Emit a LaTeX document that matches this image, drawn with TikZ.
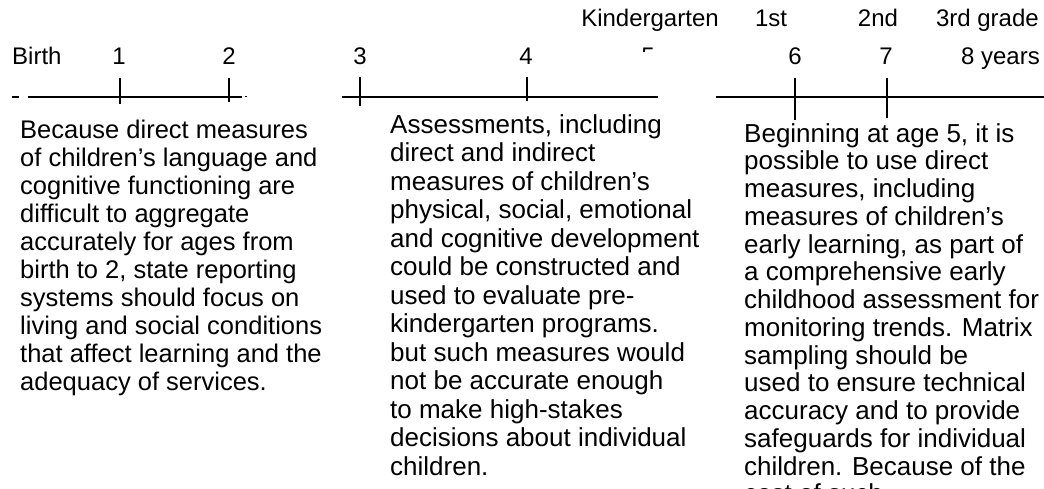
\documentclass[tikz,border=0pt]{standalone}
\usepackage{fontspec}
\setmainfont{Liberation Sans}
\begin{document}
\begin{tikzpicture}[x=1pt,y=-1pt,
  lbl/.style={inner sep=0pt,anchor=base,font=\fontsize{24}{28}\selectfont},
  body/.style={inner sep=0pt,anchor=north west,align=left},
  axisline/.style={line width=1.3pt,black},
  thickaxis/.style={line width=2.4pt,black},
  tickmark/.style={line width=1.5pt,black}]
\useasboundingbox (0,0) rectangle (1044,489);
% top row: grades
\node[lbl] (kg) at (650,27) {Kindergarten};
\node[lbl] (g1) at (771,27) {1st};
\node[lbl] (g2) at (878,27) {2nd};
\node[lbl,anchor=base east] (g3) at (1039,27) {3rd grade};
% second row: ages
\node[lbl,anchor=base west] (birth) at (12,65) {Birth};
\node[lbl] (a1) at (119,65) {1};
\node[lbl] (a2) at (229,65) {2};
\node[lbl] (a3) at (360,65) {3};
\node[lbl] (a4) at (526,65) {4};
\begin{scope}
  \clip (630,40) rectangle (670,52);
  \node[lbl] (a5) at (648,65) {5};
\end{scope}
\node[lbl] (a6) at (795,65) {6};
\node[lbl] (a7) at (886,65) {7};
\node[lbl,anchor=base east] (a8) at (1040,65) {8 years};
% axis segment 1
\coordinate (s1a) at (12,97);
\coordinate (s1b) at (19,97);
\coordinate (s1c) at (28,97);
\coordinate (s1d) at (242,97);
\coordinate (s1e) at (245,97);
\coordinate (s1f) at (247,97);
\draw[axisline] (s1a) -- (s1b);
\draw[axisline] (s1c) -- (s1d);
\draw[axisline,line width=1pt] (s1e) -- (s1f);
\draw[tickmark] (120,78) -- (120,104);
\draw[tickmark] (229,78) -- (229,102);
% axis segment 2
\coordinate (s2a) at (342,97);
\coordinate (s2b) at (658,97);
\draw[axisline] (s2a) -- (s2b);
\draw[tickmark] (360,77) -- (360,106);
\draw[tickmark] (527,77) -- (527,101);
% axis segment 3
\coordinate (s3a) at (716,97);
\coordinate (s3b) at (1044,97);
\draw[thickaxis] (s3a) -- (s3b);
\draw[tickmark,line width=2pt] (795,78) -- (795,120);
\draw[tickmark,line width=2pt] (887,78) -- (887,118);
% text blocks
\node[body,font=\fontsize{25.5}{28}\selectfont] (t1) at (20,120) {Because direct measures\\
of children’s language and\\
cognitive functioning are\\
difficult to aggregate\\
accurately for ages from\\
birth to 2, state reporting\\
systems should focus on\\
living and social conditions\\
that affect learning and the\\
adequacy of services.};
\node[body,font=\fontsize{26}{28.5}\selectfont] (t2) at (390,114) {Assessments, including\\
direct and indirect\\
measures of children’s\\
physical, social, emotional\\
and cognitive development\\
could be constructed and\\
used to evaluate pre-\\
kindergarten programs.\\
but such measures would\\
not be accurate enough\\
to make high-stakes\\
decisions about individual\\
children.};
\begin{scope}
  \clip (700,100) rectangle (1044,489);
  \node[body,font=\fontsize{26}{27.75}\selectfont] (t3) at (744,123) {Beginning at age 5, it is\\
possible to use direct\\
measures, including\\
measures of children’s\\
early learning, as part of\\
a comprehensive early\\
childhood assessment for\\
monitoring trends. Matrix\\
sampling should be\\
used to ensure technical\\
accuracy and to provide\\
safeguards for individual\\
children. Because of the\\
cost of such};
\end{scope}
\end{tikzpicture}
\end{document}
